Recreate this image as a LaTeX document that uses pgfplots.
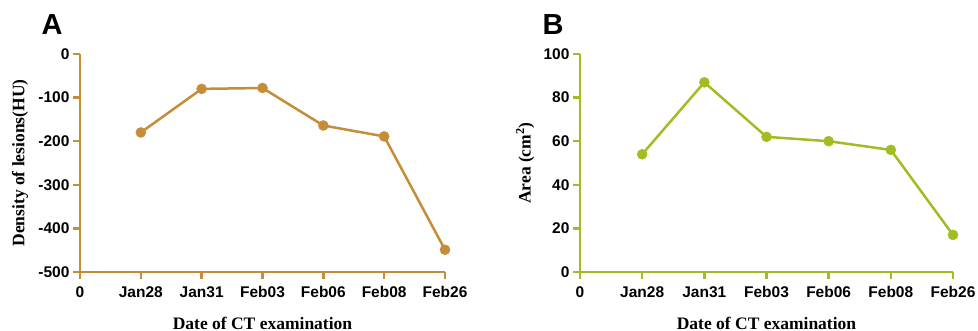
\documentclass[border=0pt]{standalone}
\usepackage{pgfplots}
\pgfplotsset{compat=1.18}
\usepackage{fontspec}
\setmainfont{Liberation Sans}
\newfontfamily\serifb{Liberation Serif}
\definecolor{cA}{RGB}{197,141,56}
\definecolor{cB}{RGB}{160,189,36}
\begin{document}
\begin{tikzpicture}[x=1pt,y=1pt]
\useasboundingbox (0,0) rectangle (978,331);
\pgfplotsset{
  common/.style={
    scale only axis,
    axis lines=left,
    xmin=0, xmax=6,
    xtick={0,1,2,3,4,5,6},
    xticklabels={0,Jan28,Jan31,Feb03,Feb06,Feb08,Feb26},
    major tick length=7pt,
    tick align=outside,
    clip=false,
    tick label style={font=\fontsize{15.5}{16}\selectfont\bfseries},
    xticklabel style={yshift=-4pt},
    label style={font=\serifb\fontsize{17.5}{18}\selectfont\bfseries},
    xlabel style={at={(axis description cs:0.5,-0.234)}, anchor=center},
  }
}
\begin{axis}[common,
  at={(80pt,59pt)}, anchor=south west,
  width=365pt, height=218pt,
  ymin=-500, ymax=0,
  ytick={-500,-400,-300,-200,-100,0},
  yticklabels={-500,-400,-300,-200,-100,0},
  axis line style={-, line width=2.5pt, cA},
  tick style={line width=2.5pt, cA},
  xlabel={Date of CT examination},
  ylabel={Density of lesions(HU)},
  ylabel style={at={(axis description cs:-0.164,0.5)}, anchor=center},
]
\addplot[cA, line width=2.5pt, mark=*, mark size=5pt, mark options={solid, fill=cA, draw=cA, line width=0.5pt}] coordinates {(1,-180) (2,-80) (3,-78) (4,-164) (5,-189) (6,-449)};
\end{axis}
\node[font=\fontsize{29}{30}\selectfont\bfseries] at (52pt,306pt) {A};
\begin{axis}[common,
  at={(580pt,59pt)}, anchor=south west,
  width=373pt, height=218pt,
  ymin=0, ymax=100,
  ytick={0,20,40,60,80,100},
  yticklabels={0,20,40,60,80,100},
  axis line style={-, line width=2.5pt, cB},
  tick style={line width=2.5pt, cB},
  xlabel={Date of CT examination},
  ylabel={Area (cm\textsuperscript{2})},
  ylabel style={at={(axis description cs:-0.147,0.5)}, anchor=center},
]
\addplot[cB, line width=2.5pt, mark=*, mark size=5pt, mark options={solid, fill=cB, draw=cB, line width=0.5pt}] coordinates {(1,54) (2,87) (3,62) (4,60) (5,56) (6,17)};
\end{axis}
\node[font=\fontsize{29}{30}\selectfont\bfseries] at (553pt,306pt) {B};
\end{tikzpicture}
\end{document}
